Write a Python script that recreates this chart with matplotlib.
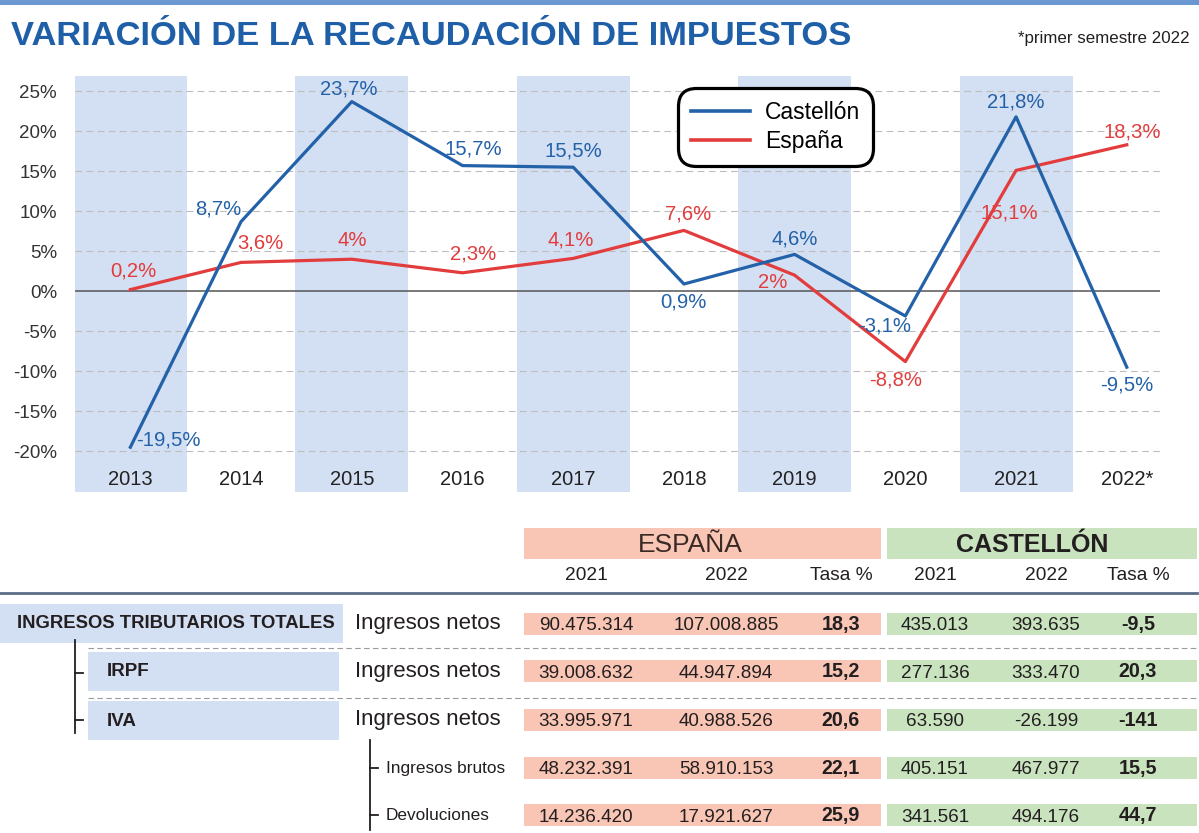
import matplotlib.pyplot as plt
from matplotlib.patches import Rectangle

# datos del gráfico
years = [2013, 2014, 2015, 2016, 2017, 2018, 2019, 2020, 2021, 2022]
year_labels = ['2013', '2014', '2015', '2016', '2017', '2018', '2019', '2020', '2021', '2022*']
castellon = [-19.5, 8.7, 23.7, 15.7, 15.5, 0.9, 4.6, -3.1, 21.8, -9.5]
espana = [0.2, 3.6, 4.0, 2.3, 4.1, 7.6, 2.0, -8.8, 15.1, 18.3]
y_ticks = [-20, -15, -10, -5, 0, 5, 10, 15, 20, 25]

# datos de la tabla
row_names = ['INGRESOS TRIBUTARIOS TOTALES', 'IRPF', 'IVA', '', '']
concepts = ['Ingresos netos', 'Ingresos netos', 'Ingresos netos', 'Ingresos brutos', 'Devoluciones']
esp_2021 = [90475314, 39008632, 33995971, 48232391, 14236420]
esp_2022 = [107008885, 44947894, 40988526, 58910153, 17921627]
esp_tasa = [18.3, 15.2, 20.6, 22.1, 25.9]
cas_2021 = [435013, 277136, 63590, 405151, 341561]
cas_2022 = [393635, 333470, -26199, 467977, 494176]
cas_tasa = [-9.5, 20.3, -141, 15.5, 44.7]

BLUE = '#2361a8'
RED = '#e23c3c'
BAND = '#d3dff2'
PINK = '#f9c5b4'
GREEN = '#c8e3be'
DARK = '#231f20'
SANS = ['Liberation Sans', 'DejaVu Sans']


def miles(v):
    return f"{v:,}".replace(',', '.')


def coma(v):
    return f"{v:g}".replace('.', ',')


# desplazamientos de etiquetas (pixeles)
off_cas = [(38, 7), (-23, 13), (-3, 13), (11, 17), (0, 16), (0, -18), (0, 15), (-21, -10), (0, 15), (0, -18)]
off_esp = [(3, 19), (19, 19), (0, 19), (11, 19), (-3, 18), (4, 16), (-22, -7), (-10, -18), (-7, -43), (5, 13)]

plt.rcParams['font.family'] = SANS
fig = plt.figure(figsize=(11.99, 8.33), dpi=100)

# capa de fondo en coordenadas de pixel
bg = fig.add_axes([0, 0, 1, 1])
bg.set_xlim(0, 1199)
bg.set_ylim(833, 0)
bg.axis('off')

bg.add_patch(Rectangle((0, 0), 1199, 5, color='#6b98d0', lw=0))
bg.text(11, 45, 'VARIACIÓN DE LA RECAUDACIÓN DE IMPUESTOS', fontsize=24.8, fontweight='bold',
        color='#1e5fa8', va='baseline', ha='left')
bg.text(1190, 43, '*primer semestre 2022', fontsize=12.2, color=DARK, va='baseline', ha='right')

# gráfico de líneas
ax = fig.add_axes([75 / 1199, 1 - 492 / 833, 1085 / 1199, 416 / 833])
ax.set_xlim(2012.5, 2022.3)
ax.set_ylim(-25.1, 26.9)
for y in years[::2]:
    ax.axvspan(y - 0.51, y + 0.51, color=BAND, lw=0, zorder=0)
for t in y_ticks:
    if t == 0:
        ax.axhline(0, color='#555555', lw=1.1, zorder=1)
    else:
        ax.axhline(t, color='#bdbdbd', lw=0.8, ls=(0, (6, 4)), zorder=1)

ax.plot(years, espana, color=RED, lw=2.3, label='España', zorder=3)
ax.plot(years, castellon, color=BLUE, lw=2.3, label='Castellón', zorder=4)

for x, v, (dx, dy) in zip(years, castellon, off_cas):
    ax.annotate(coma(v) + '%', (x, v), xytext=(dx, dy), textcoords='offset pixels',
                ha='center', va='center', fontsize=14.6, color=BLUE, zorder=5)
for x, v, (dx, dy) in zip(years, espana, off_esp):
    ax.annotate(coma(v) + '%', (x, v), xytext=(dx, dy), textcoords='offset pixels',
                ha='center', va='center', fontsize=14.6, color=RED, zorder=5)

for x, lab in zip(years, year_labels):
    ax.text(x, -23.6, lab, ha='center', va='center', fontsize=14.5, color='#222222')

ax.set_yticks(y_ticks)
ax.set_yticklabels([f'{t}%' for t in y_ticks])
ax.tick_params(axis='y', length=0, pad=13, labelsize=13.5, labelcolor='#333333')
ax.set_xticks([])
for s in ax.spines.values():
    s.set_visible(False)

handles, labels = ax.get_legend_handles_labels()
leg = ax.legend(handles[::-1], labels[::-1], loc='upper left',
                bbox_to_anchor=(678 / 1199, 1 - 88 / 833), bbox_transform=fig.transFigure,
                borderaxespad=0, fontsize=16.5, handlelength=2.6, handletextpad=0.65,
                borderpad=0.55, labelspacing=0.3, framealpha=1, fancybox=True)
frame = leg.get_frame()
frame.set_edgecolor('black')
frame.set_linewidth(2.3)
frame.set_boxstyle('round,pad=0,rounding_size=0.8')
for line in leg.get_lines():
    line.set_linewidth(2.6)

# tabla
col_x = [586, 726, 841, 935, 1046, 1138]
bg.add_patch(Rectangle((524, 528), 357, 31, color=PINK, lw=0))
bg.add_patch(Rectangle((887, 528), 310, 31, color=GREEN, lw=0))
bg.text(690, 545, 'ESPAÑA', fontsize=19, color='#3a2a25', ha='center', va='center')
bg.text(1032, 545, 'CASTELLÓN', fontsize=18, fontweight='bold', color=DARK, ha='center', va='center')
for x, h in zip(col_x, ['2021', '2022', 'Tasa %', '2021', '2022', 'Tasa %']):
    bg.text(x, 576, h, fontsize=13.8, color=DARK, ha='center', va='center')
bg.plot([0, 1197], [593, 593], color='#5b6c86', lw=2)

row_y = [624, 671, 720, 768, 815]
for i, yc in enumerate(row_y):
    bg.add_patch(Rectangle((524, yc - 11), 357, 22, color=PINK, lw=0))
    bg.add_patch(Rectangle((887, yc - 11), 310, 22, color=GREEN, lw=0))
    vals = [miles(esp_2021[i]), miles(esp_2022[i]), coma(esp_tasa[i]),
            miles(cas_2021[i]), miles(cas_2022[i]), coma(cas_tasa[i])]
    for j, (x, v) in enumerate(zip(col_x, vals)):
        bold = j in (2, 5)
        bg.text(x, yc + (0.5 if bold else 2), v, fontsize=14.2 if bold else 13.6, color=DARK,
                ha='center', va='center', fontweight='bold' if bold else 'normal')
    if i < 3:
        bg.text(355, yc, concepts[i], fontsize=16, color=DARK, ha='left', va='center')
    else:
        bg.text(386, yc + 1, concepts[i], fontsize=12.4, color=DARK, ha='left', va='center')

# cajas de la izquierda
bg.add_patch(Rectangle((0, 604), 343, 39, color=BAND, lw=0))
bg.text(17, 624, row_names[0], fontsize=13.3, fontweight='bold', color=DARK, ha='left',
        va='center')
for i in (1, 2):
    bg.add_patch(Rectangle((88, row_y[i] - 19), 251, 39, color=BAND, lw=0))
    bg.text(107, row_y[i] + 1, row_names[i], fontsize=13.5, fontweight='bold', color=DARK,
            ha='left', va='center')

# separadores y árbol
for yl in (648, 698):
    bg.plot([88, 1197], [yl, yl], color='#9a9a9a', lw=0.8, ls=(0, (5, 3)))
bg.plot([75, 75], [640, 733], color=DARK, lw=1.3)
for yt in (673, 720):
    bg.plot([75, 83], [yt, yt], color=DARK, lw=1.3)
bg.plot([370, 370], [740, 830], color=DARK, lw=1.3)
for yt in (768, 815):
    bg.plot([370, 378], [yt, yt], color=DARK, lw=1.3)

fig.savefig('out.png', dpi=100)
